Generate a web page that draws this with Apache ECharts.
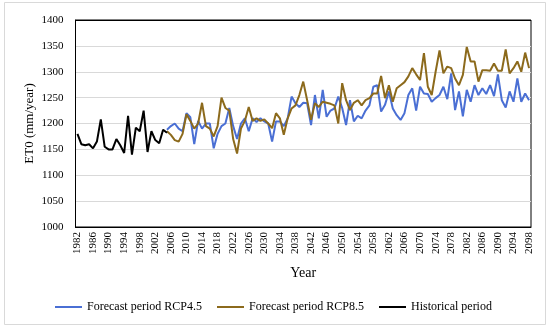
<!DOCTYPE html>
<html><head><meta charset="utf-8">
<script src="https://cdn.jsdelivr.net/npm/echarts@6/dist/echarts.min.js"></script>
<style>html,body{margin:0;padding:0;background:#fff}#c{width:550px;height:331px}</style>
</head><body><div id="c"></div>
<script>
const startYear = 1982, endYear = 2098;
const histStart = 1982;
const historical = [1180,1160,1158,1160,1152,1165,1208,1155,1150,1150,1170,1158,1143,1215,1140,1192,1185,1225,1145,1185,1168,1162,1188,1182];
const forecastStart = 2005;
const rcp45 = [1188,1195,1200,1190,1185,1220,1212,1160,1205,1190,1200,1200,1152,1180,1195,1200,1230,1195,1170,1200,1210,1185,1210,1203,1210,
1204,1200,1165,1204,1204,1195,1210,1252,1239,1232,1240,1239,1197,1255,1210,1265,1213,1225,1229,1252,1230,1197,1245,1204,1215,1210,
1225,1235,1271,1274,1223,1236,1262,1229,1216,1207,1220,1255,1268,1225,1271,1258,1257,1242,1249,1255,1271,1247,1297,1226,1262,1214,
1265,1242,1274,1255,1268,1257,1274,1253,1295,1245,1231,1262,1242,1287,1242,1258,1245];
const rcp85 = [1185,1178,1168,1165,1180,1218,1205,1190,1200,1240,1195,1190,1175,1195,1250,1230,1225,1170,1142,1190,1205,1232,1205,1210,1205,
1208,1200,1191,1220,1210,1178,1210,1229,1235,1255,1281,1245,1207,1239,1232,1242,1240,1238,1235,1200,1278,1245,1226,1240,1245,1235,
1245,1249,1258,1258,1292,1249,1274,1242,1268,1274,1280,1291,1307,1295,1284,1336,1271,1255,1300,1341,1297,1310,1307,1287,1274,1294,
1348,1320,1320,1281,1303,1303,1302,1316,1302,1302,1343,1297,1307,1320,1300,1337,1307];

const years = [];
for (let y = startYear; y <= endYear; y++) years.push(String(y));
function place(arr, s) {
  const out = years.map(() => null);
  arr.forEach((v, i) => { const k = s - startYear + i; if (k < out.length) out[k] = v; });
  return out;
}
const serif = 'Liberation Serif';
const chart = echarts.init(document.getElementById('c'), null, {renderer: 'canvas'});
chart.setOption({
  animation: false,
  backgroundColor: '#fff',
  graphic: [{type: 'rect', shape: {x: 4.5, y: 2.5, width: 541, height: 322}, style: {fill: 'none', stroke: '#d9d9d9', lineWidth: 1}, silent: true}],
  grid: {left: 75.5, right: 19, top: 20, bottom: 104, show: true, borderColor: '#000', borderWidth: 1, backgroundColor: 'transparent'},
  legend: {
    left: 50, bottom: 13, itemWidth: 27, itemHeight: 2, itemGap: 15, icon: 'rect',
    textStyle: {fontFamily: serif, fontSize: 12, color: '#000'},
    data: ['Forecast period RCP4.5', 'Forecast period RCP8.5', 'Historical period']
  },
  xAxis: {
    type: 'category', data: years, boundaryGap: true,
    name: 'Year', nameLocation: 'middle', nameGap: 39, nameMoveOverlap: false,
    nameTextStyle: {fontFamily: serif, fontSize: 14, color: '#000'},
    axisLine: {lineStyle: {color: '#000', width: 1}},
    axisTick: {alignWithLabel: true, interval: 3, length: 4, lineStyle: {color: '#000'}},
    axisLabel: {interval: 3, rotate: 90, fontFamily: serif, fontSize: 11, color: '#000', margin: 5}
  },
  yAxis: {
    type: 'value', min: 1000, max: 1400, interval: 50,
    name: 'ET0 (mm/year)', nameLocation: 'middle', nameGap: 39, nameMoveOverlap: false,
    nameTextStyle: {fontFamily: serif, fontSize: 13, color: '#000'},
    axisLine: {show: true, lineStyle: {color: '#000', width: 1}},
    axisTick: {show: false},
    axisLabel: {fontFamily: serif, fontSize: 11, color: '#000', margin: 12, formatter: v => String(v)},
    splitLine: {lineStyle: {color: ['#000','#d9d9d9','#d9d9d9','#d9d9d9','#d9d9d9','#d9d9d9','#d9d9d9','#d9d9d9','#000'], width: 1}}
  },
  series: [
    {name: 'Forecast period RCP4.5', type: 'line', data: place(rcp45, forecastStart), symbol: 'none', lineStyle: {color: '#4a6fd4', width: 2}, itemStyle: {color: '#4a6fd4'}},
    {name: 'Forecast period RCP8.5', type: 'line', data: place(rcp85, forecastStart), symbol: 'none', lineStyle: {color: '#8c6a1c', width: 2}, itemStyle: {color: '#8c6a1c'}},
    {name: 'Historical period', type: 'line', data: place(historical, histStart), symbol: 'none', lineStyle: {color: '#000', width: 2}, itemStyle: {color: '#000'}}
  ]
});
</script></body></html>
